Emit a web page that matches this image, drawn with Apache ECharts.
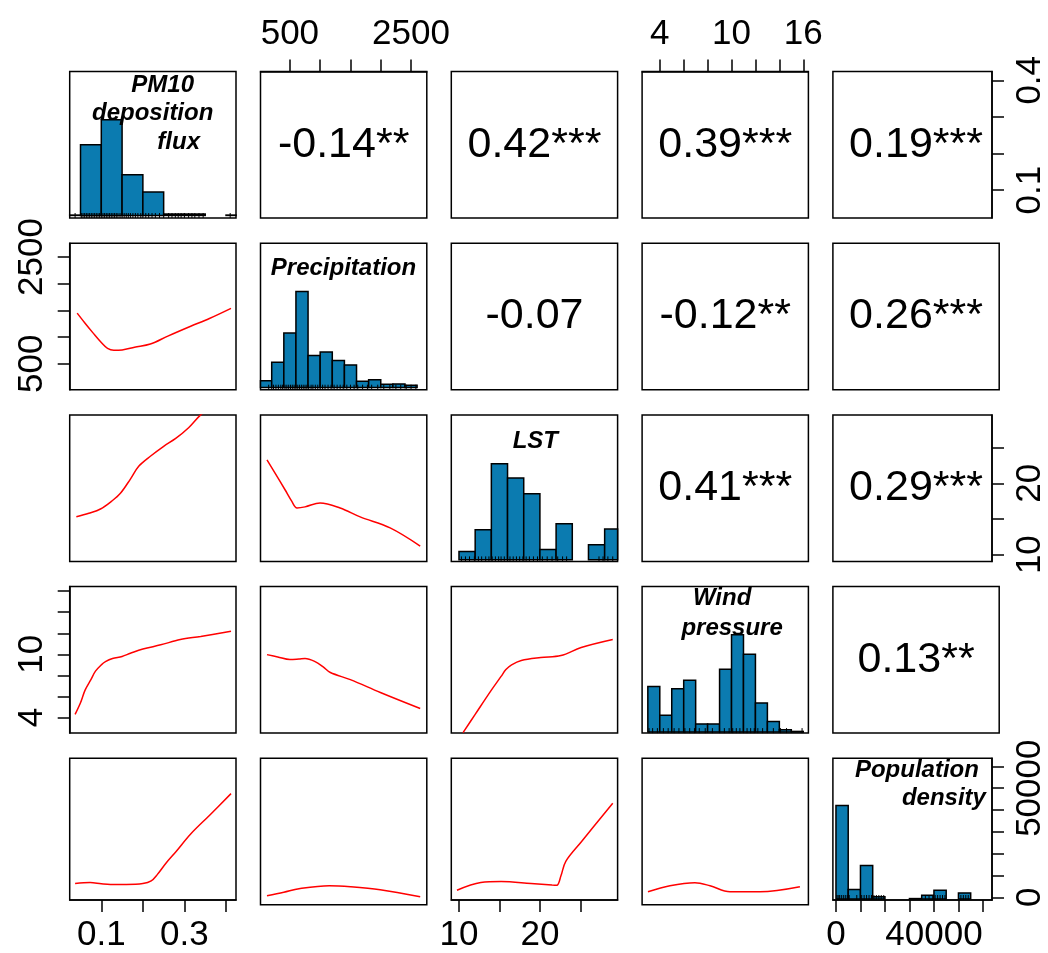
<!DOCTYPE html>
<html><head><meta charset="utf-8">
<script src="https://cdn.jsdelivr.net/npm/echarts@6/dist/echarts.min.js"></script>
<style>html,body{margin:0;padding:0;background:#fff}#c{width:1048px;height:953px}</style>
</head><body><div id="c"></div>
<script>
// ---------------- DATA ----------------
const varLabels = [['PM10','deposition','flux'], ['Precipitation'], ['LST'], ['Wind','pressure'], ['Population','density']];
const varRanges = [[0.024,0.424],[15,2760],[9.05,29.6],[2.52,16.43],[-1250,63700]];

// tick marks and tick labels
const ticksPM10 = [0.1,0.2,0.3,0.4];
const ticksPrecip = [500,1000,1500,2000,2500];
const ticksLST = [10,15,20,25];
const ticksWind = [4,6,8,10,12,14,16];
const ticksPop = [0,10000,20000,30000,40000,50000,60000];
const labBottomPM10 = [0.1,0.3];
const labRightPM10 = [0.1,0.4];
const labTopPrecip = [500,2500];
const labLeftPrecip = [500,2500];
const labBottomLST = [10,20];
const labRightLST = [10,20];
const labTopWind = [4,10,16];
const labLeftWind = [4,10];
const labBottomPop = [0,40000];
const labRightPop = [0,50000];

// histograms (bin edges, % of observations per bin)
const histEdgesPM10 = [0,0.05,0.1,0.15,0.2,0.25,0.3,0.35,0.4,0.45];
const histPctPM10 = [0.15,30.2,40.8,17.4,10.0,0.6,0.6,0,0.15];
const histEdgesPrecip = [0,200,400,600,800,1000,1200,1400,1600,1800,2000,2200,2400,2600];
const histPctPrecip = [2.1,7.8,16.9,29.8,9.9,11.0,8.4,7.0,1.9,2.4,1.0,1.1,0.7];
const histEdgesLST = [10,12,14,16,18,20,22,24,26,28,30];
const histPctLST = [2.2,8.0,25.7,21.9,17.7,2.7,9.6,0,4.0,8.2];
const histEdgesWind = [3,4,5,6,7,8,9,10,11,12,13,14,15,16];
const histPctWind = [10.0,3.7,9.5,11.4,1.8,1.8,13.8,21.4,17.1,6.4,2.3,0.5,0.15];
const histEdgesPop = [0,5000,10000,15000,20000,25000,30000,35000,40000,45000,50000,55000];
const histPctPop = [59.1,6.1,21.2,1.4,0,0,0.3,2.4,5.5,0,3.9];
const histYRange = [[-1.1,61.4],[-0.7,44.8],[-0.46,38.8],[-0.22,31.95],[-0.6,89]];

// rug values
const rugPM10 = [0.037,0.052,0.056,0.06,0.064,0.068,0.072,0.076,0.08,0.084,0.088,0.092,0.096,0.1,0.104,0.108,0.112,0.116,0.12,0.124,0.128,0.132,0.136,0.14,0.145,0.15,0.155,0.16,0.165,0.17,0.176,0.182,0.188,0.195,0.2,0.207,0.214,0.222,0.23,0.24,0.25,0.262,0.27,0.278,0.285,0.292,0.3,0.31,0.318,0.325,0.335,0.345,0.41];
const rugPrecip = [150,200,230,270,310,350,380,420,450,480,510,540,570,600,630,660,690,720,750,780,810,850,880,920,960,1000,1040,1080,1130,1180,1230,1280,1330,1380,1440,1500,1560,1620,1700,1780,1850,1950,2050,2150,2250,2330,2420,2500,2580];
const rugLST = [10.3,10.8,11.3,11.9,12.4,12.8,13.3,13.7,14.1,14.5,14.9,15.2,15.6,16.0,16.3,16.7,17.1,17.5,17.9,18.3,18.7,19.2,19.7,20.3,20.9,21.5,22.2,22.8,23.3,27.3,27.8,28.4,29.0];
const rugWind = [3.1,3.4,3.8,4.3,4.7,5.2,5.6,6.1,6.5,6.9,7.3,7.8,8.4,9.0,9.4,9.8,10.1,10.4,10.7,11.0,11.3,11.6,11.9,12.2,12.6,13.0,13.5,14.1,14.6,15.9];
const rugPop = [400,900,1500,2200,3000,3800,4600,5400,8500,10500,11500,12500,13500,14500,15500,16500,17500,18500,19500,36500,38000,39500,40500,41500,42500,43500,44500,51000,52000,53000,54000];

// correlations (upper triangle): [row, col, r, stars]
const corrCells = [
  [0,1,'-0.14','**'],[0,2,'0.42','***'],[0,3,'0.39','***'],[0,4,'0.19','***'],
  [1,2,'-0.07',''],[1,3,'-0.12','**'],[1,4,'0.26','***'],
  [2,3,'0.41','***'],[2,4,'0.29','***'],
  [3,4,'0.13','**']
];

// smoothed (loess) lines, lower triangle: x = column variable, y = row variable
const smoothPrecipByPM10 = [[0.042,1450],[0.06,1270],[0.08,1080],[0.1,900],[0.115,790],[0.13,755],[0.15,760],[0.18,810],[0.218,870],[0.26,1020],[0.315,1205],[0.36,1350],[0.412,1540]];
const smoothLSTByPM10 = [[0.04,15.3],[0.07,15.8],[0.098,16.4],[0.125,17.5],[0.146,18.6],[0.17,20.6],[0.19,22.4],[0.218,23.8],[0.25,25.2],[0.279,26.3],[0.31,27.8],[0.339,29.6],[0.37,31],[0.41,33]];
const smoothWindByPM10 = [[0.037,4.3],[0.05,5.4],[0.061,6.6],[0.075,7.6],[0.086,8.4],[0.1,9.0],[0.11,9.3],[0.127,9.6],[0.15,9.8],[0.17,10.1],[0.2,10.5],[0.243,10.9],[0.29,11.4],[0.339,11.7],[0.412,12.2]];
const smoothPopByPM10 = [[0.037,6300],[0.073,6750],[0.1,6200],[0.122,5900],[0.16,5900],[0.2,6300],[0.22,7500],[0.235,10500],[0.255,15500],[0.28,21000],[0.315,29000],[0.36,37500],[0.412,47500]];
const smoothLSTByPrecip = [[122,23.3],[250,21.5],[420,19.1],[530,17.5],[618,16.55],[750,16.7],[998,17.25],[1329,16.55],[1660,15.3],[2155,13.75],[2651,11.2]];
const smoothWindByPrecip = [[122,9.97],[300,9.75],[502,9.5],[650,9.55],[750,9.6],[915,9.31],[1050,8.8],[1168,8.27],[1498,7.6],[1994,6.37],[2651,4.85]];
const smoothPopByPrecip = [[122,2770],[400,4300],[650,5870],[1150,7200],[1500,6750],[1990,5420],[2651,2320]];
const smoothWindByLST = [[10.5,2.57],[12,4.3],[14,6.6],[15.2,7.9],[15.8,8.55],[16.5,9.0],[17.7,9.41],[20.1,9.69],[22.6,9.88],[25.1,10.64],[29.0,11.4]];
const smoothPopByLST = [[9.75,3210],[12.7,6750],[15.2,7200],[18.9,6310],[21.5,5600],[22.1,5500],[22.6,9850],[23.2,16500],[25.1,25360],[29.0,43080]];
const smoothPopByWind = [[3.01,4540],[4.85,7200],[6.94,8530],[8.2,7200],[9.87,4540],[12.38,4540],[15.72,6750]];

// ---------------- BUILD ----------------
const hist = [[histEdgesPM10,histPctPM10],[histEdgesPrecip,histPctPrecip],[histEdgesLST,histPctLST],[histEdgesWind,histPctWind],[histEdgesPop,histPctPop]];
const rugs = [rugPM10,rugPrecip,rugLST,rugWind,rugPop];
const smooth = {'1-0':smoothPrecipByPM10,'2-0':smoothLSTByPM10,'3-0':smoothWindByPM10,'4-0':smoothPopByPM10,
  '2-1':smoothLSTByPrecip,'3-1':smoothWindByPrecip,'4-1':smoothPopByPrecip,'3-2':smoothWindByLST,'4-2':smoothPopByLST,'4-3':smoothPopByWind};

const FONT = 'Liberation Sans, Arial, Helvetica, sans-serif';
const GX0 = 69.7, GPX = 190.8, GW = 166.3;
const GY0 = 71.5, GPY = 171.7, GH = 146.5;

const grids=[], xAxes=[], yAxes=[], series=[], graphics=[];
const hidden = {axisLine:{show:false}, axisTick:{show:false}, axisLabel:{show:false}, splitLine:{show:false}};
function shown(pos, ticks, labels, rotate, margin){
  return {position: pos,
    axisLine:{show:true, onZero:false, lineStyle:{color:'#000', width:1.5}},
    axisTick:{show:true, customValues: ticks, length: 12, inside:false, lineStyle:{color:'#000', width:1.5}},
    axisLabel:{show:true, customValues: labels, formatter: v => String(v), color:'#000', fontSize:35, fontFamily:FONT, margin: margin, rotate: rotate||0},
    splitLine:{show:false}};
}
const idx = (r,c) => r*5+c;
for (let r=0;r<5;r++) for (let c=0;c<5;c++){
  const i = idx(r,c);
  grids.push({left: GX0+c*GPX, top: GY0+r*GPY, width: GW, height: GH, show:true, borderColor:'#000', borderWidth:1.5, backgroundColor:'rgba(0,0,0,0)'});
  xAxes.push(Object.assign({type:'value', gridIndex:i, min:varRanges[c][0], max:varRanges[c][1]}, hidden));
  const yr = (r===c) ? histYRange[r] : varRanges[r];
  yAxes.push(Object.assign({type:'value', gridIndex:i, min:yr[0], max:yr[1]}, hidden));
}
yAxes.push(Object.assign({type:'value', gridIndex:idx(4,4), min:varRanges[4][0], max:varRanges[4][1]}, hidden));

Object.assign(xAxes[idx(0,1)], shown('top', ticksPrecip, labTopPrecip, 0, 20));
Object.assign(xAxes[idx(0,3)], shown('top', ticksWind, labTopWind, 0, 20));
Object.assign(xAxes[idx(4,0)], shown('bottom', ticksPM10, labBottomPM10, 0, 18));
Object.assign(xAxes[idx(4,2)], shown('bottom', ticksLST, labBottomLST, 0, 18));
Object.assign(xAxes[idx(4,4)], shown('bottom', ticksPop, labBottomPop, 0, 18));
Object.assign(yAxes[idx(1,0)], shown('left', ticksPrecip, labLeftPrecip, 90, 20));
Object.assign(yAxes[idx(3,0)], shown('left', ticksWind, labLeftWind, 90, 20));
Object.assign(yAxes[idx(0,4)], shown('right', ticksPM10, labRightPM10, 90, 21));
Object.assign(yAxes[idx(2,4)], shown('right', ticksLST, labRightLST, 90, 21));
Object.assign(yAxes[25], shown('right', ticksPop, labRightPop, 90, 21));

for (let k=0;k<5;k++){
  const i = idx(k,k);
  const [edges, pct] = hist[k];
  series.push({type:'custom', xAxisIndex:i, yAxisIndex:i, silent:true, z:2,
    data: pct.map((p,j)=>[edges[j], edges[j+1], p]),
    renderItem(params, api){
      const h = api.value(2); if (!h) return null;
      const p0 = api.coord([api.value(0), 0]), p1 = api.coord([api.value(1), h]);
      const cs = params.coordSys;
      const rect = echarts.graphic.clipRectByRect({x:p0[0], y:p1[1], width:p1[0]-p0[0], height:p0[1]-p1[1]}, {x:cs.x, y:cs.y, width:cs.width, height:cs.height});
      return rect && {type:'rect', shape:rect, style:{fill:'#0b7bb0', stroke:'#000', lineWidth:1.5}};
    }});
  series.push({type:'custom', xAxisIndex:i, yAxisIndex:i, silent:true, z:3,
    data: rugs[k].map(v=>[v]),
    renderItem(params, api){
      const cs = params.coordSys;
      const p = api.coord([api.value(0), histYRange[k][0]]);
      if (p[0] < cs.x || p[0] > cs.x+cs.width) return null;
      return {type:'line', shape:{x1:p[0], y1:cs.y+cs.height, x2:p[0], y2:cs.y+cs.height-5}, style:{stroke:'#000', lineWidth:1}};
    }});
}
for (const key in smooth){
  const [r,c] = key.split('-').map(Number);
  const i = idx(r,c);
  series.push({type:'line', xAxisIndex:i, yAxisIndex:i, data: smooth[key], showSymbol:false, smooth:0.35, clip:true, silent:true,
    lineStyle:{color:'#ff0000', width:1.5}});
}
for (const [r,c,v,s] of corrCells){
  graphics.push({type:'text', x: GX0+c*GPX+GW/2, y: GY0+r*GPY+GH/2, silent:true,
    style:{text: v+s, fill:'#000', fontSize:43, fontFamily:FONT, align:'center', verticalAlign:'middle'}});
}
// diagonal variable names
const nameOffsets = [[[93,14],[83,42],[109,71]], [[83,25]], [[84,26]], [[80,12],[90,42]], [[84,12],[111,40]]];
for (let k=0;k<5;k++){
  varLabels[k].forEach((t,j)=>{
    graphics.push({type:'text', x: GX0+k*GPX+nameOffsets[k][j][0], y: GY0+k*GPY+nameOffsets[k][j][1], silent:true, z:10,
      style:{text:t, fill:'#000', fontSize:24, fontWeight:'bold', fontStyle:'italic', fontFamily:FONT, align:'center', verticalAlign:'middle'}});
  });
}

const chart = echarts.init(document.getElementById('c'), null, {renderer:'canvas'});
chart.setOption({animation:false, backgroundColor:'#fff', grid:grids, xAxis:xAxes, yAxis:yAxes, series:series, graphic:graphics});
</script></body></html>
